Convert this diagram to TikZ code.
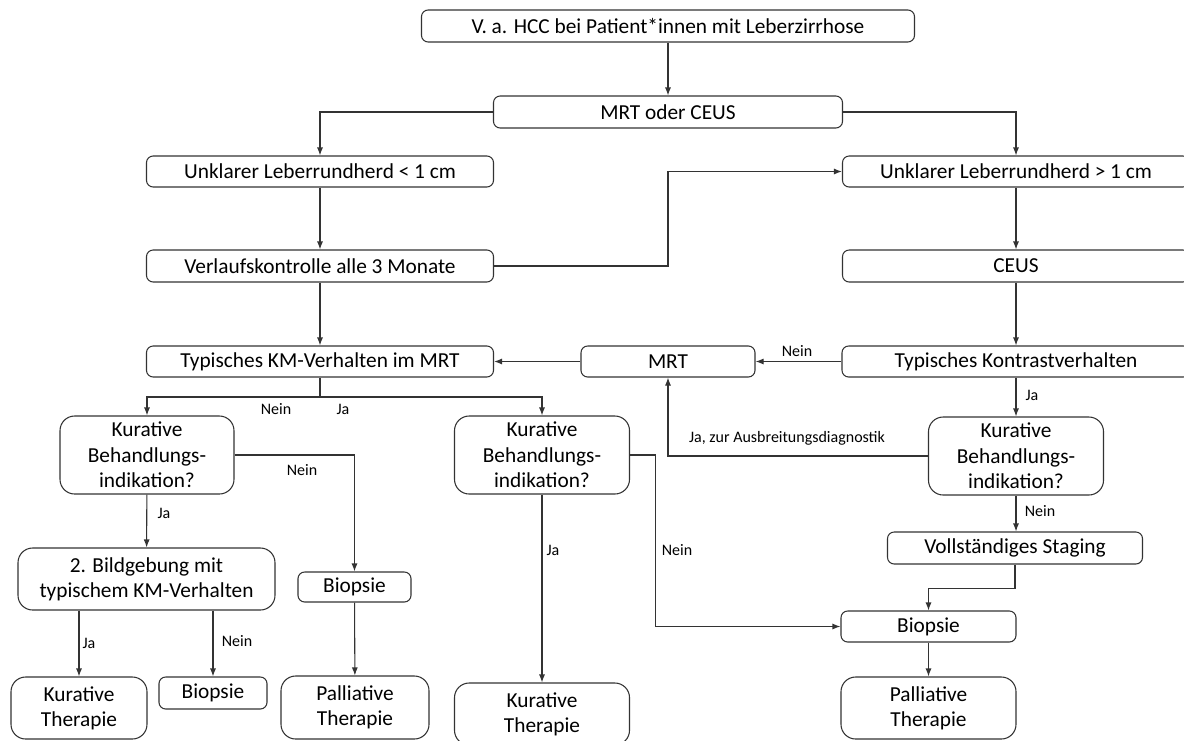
\documentclass[tikz,border=0pt]{standalone}
\usepackage{fontspec}
\setmainfont{Carlito}
\usetikzlibrary{arrows.meta}

\begin{document}
\begin{tikzpicture}[x=0.75pt,y=-0.75pt,
    box/.style={draw=black!80, line width=0.8pt, rounded corners=5pt, align=center,
      inner sep=0pt, font=\fontsize{16}{19}\selectfont},
    bigbox/.style={box, rounded corners=11pt},
    wh/.style 2 args={minimum width=#1*0.75pt, minimum height=#2*0.75pt},
    pfeil/.style={draw=black!80, line width=0.8pt, -{Latex[length=6pt,width=4.5pt]}},
    lbl/.style={font=\fontsize{12}{14}\selectfont, inner sep=0pt}]

    % Rahmen (Bildgroesse in px)
    \useasboundingbox (0,0) rectangle (1184,740);
    \clip (0,0) rectangle (1184,740);

    % ---- Obere Kaesten ----
    \node[box, wh={493}{32}] (top) at (668,26) {V. a. HCC bei Patient*innen mit Leberzirrhose};
    \node[box, wh={349}{32}] (mrtceus) at (668,112) {MRT oder CEUS};

    % Linke Spalte
    \node[box, wh={347}{31}] (klein) at (320,171.5) {Unklarer Leberrundherd < 1 cm};
    \node[box, wh={347}{32}] (verlauf) at (320,266) {Verlaufskontrolle alle 3 Monate};
    \node[box, wh={347}{31}] (typkm) at (320,361.5) {Typisches KM-Verhalten im MRT};

    % Rechte Spalte
    \node[box, wh={347}{31}] (gross) at (1016,171.5) {Unklarer Leberrundherd > 1 cm};
    \node[box, wh={347}{32}] (ceus) at (1016,266) {CEUS};
    \node[box, wh={348}{31}] (typkv) at (1016,361.5) {Typisches Kontrastverhalten};
    \node[box, wh={174}{31}] (mrt) at (668,361.5) {MRT};

    % ---- Behandlungsindikation ----
    \node[bigbox, wh={174}{78}] (kbiA) at (147,455) {Kurative\\Behandlungs-\\indikation?};
    \node[bigbox, wh={175}{78}] (kbiB) at (542,455) {Kurative\\Behandlungs-\\indikation?};
    \node[bigbox, wh={175}{78}] (kbiC) at (1016,456) {Kurative\\Behandlungs-\\indikation?};

    \node[bigbox, wh={257}{62}] (bild) at (146.5,579) {2. Bildgebung mit\\typischem KM-Verhalten};
    \node[box, wh={113}{30}] (bioA) at (354.5,587) {Biopsie};
    \node[box, wh={255}{32}] (staging) at (1015,548) {Vollständiges Staging};
    \node[box, wh={175}{31}] (bioC) at (928.5,626.5) {Biopsie};

    % ---- Untere Reihe ----
    \node[bigbox, wh={136}{62}] (kurA) at (79,708) {Kurative\\Therapie};
    \node[box, wh={108}{32}] (bioB) at (213,693) {Biopsie};
    \node[bigbox, wh={148}{63}] (palA) at (355,707.5) {Palliative\\Therapie};
    \node[bigbox, wh={175}{62}] (kurB) at (542,714) {Kurative\\Therapie};
    \node[bigbox, wh={175}{62}] (palC) at (928.5,708) {Palliative\\Therapie};

    % ---- Pfeile ----
    \draw[pfeil] (top) -- (mrtceus);
    \draw[pfeil] (mrtceus.west) -| (klein.north);
    \draw[pfeil] (mrtceus.east) -| (gross.north);

    \foreach \a/\b in {klein/verlauf, verlauf/typkm, gross/ceus, ceus/typkv,
                      bioA/palA, bioC/palC, kbiB/kurB}{
      \draw[pfeil] (\a) -- (\b);
    }

    \draw[pfeil] (verlauf.east) -- (verlauf.east -| mrtceus) |- (gross.west);
    \draw[pfeil] (typkv.west) -- (mrt.east);
    \draw[pfeil] (mrt.west) -- (typkm.east);

    % Gabel unter KM-Verhalten
    \coordinate (gabel) at (320,397);
    \draw[pfeil] (typkm.south) -- (gabel) -| (kbiA.north);
    \draw[pfeil] (gabel) -| (kbiB.north);

    \draw[pfeil] (kbiA.east) -| (bioA.north);
    \draw[pfeil] (kbiA) -- (bild);
    \draw[pfeil] (bild.south -| kurA.north) -- (kurA.north);
    \draw[pfeil] (bild.south -| bioB.north) -- (bioB.north);

    \draw[pfeil] (kbiB.east) -- ++(25,0) |- (bioC.west);

    \draw[pfeil] (typkv) -- (kbiC);
    \draw[pfeil] (kbiC.west) -| (mrt.south);
    \draw[pfeil] (kbiC) -- (kbiC |- staging.north);
    \draw[pfeil] (staging.south) -- ++(0,24) -| (bioC.north);

    % ---- Beschriftungen ----
    \node[lbl] (l1) at (797,351) {Nein};
    \node[lbl] (l2) at (276,409) {Nein};
    \node[lbl] (l3) at (343,409) {Ja};
    \node[lbl] (l4) at (302,470) {Nein};
    \node[lbl] (l5) at (164,513) {Ja};
    \node[lbl] (l6) at (89,643) {Ja};
    \node[lbl] (l7) at (237,641) {Nein};
    \node[lbl] (l8) at (553,550) {Ja};
    \node[lbl] (l9) at (677,550) {Nein};
    \node[lbl] (l10) at (1032,395) {Ja};
    \node[lbl] (l11) at (787,438) {Ja, zur Ausbreitungsdiagnostik};
    \node[lbl] (l12) at (1040,511) {Nein};

\end{tikzpicture}
\end{document}
